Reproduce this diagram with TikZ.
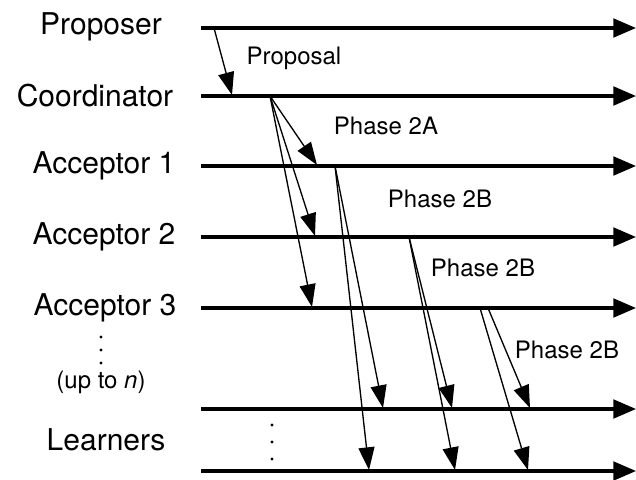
\documentclass[tikz,border=0pt]{standalone}
\usepackage{fontspec}
\setmainfont{TeX Gyre Heros}
\usetikzlibrary{arrows.meta}

\tikzset{every picture/.style={line width=0.75pt}}

\begin{document}
\begin{tikzpicture}[x=0.75pt,y=0.75pt,yscale=-1,xscale=1,
		role/.style={inner sep=0.75pt,font=\fontsize{22.5}{27}\selectfont},
		msglabel/.style={inner sep=0.75pt,font=\fontsize{18}{21.6}\selectfont},
		timeline/.style={line width=2.3pt,-{Triangle[length=17pt,width=14pt]}},
		msg/.style={line width=1pt,-{Triangle[length=17pt,width=12pt]}},
		vdot/.style={circle,fill,inner sep=0pt,minimum size=2.6pt}]
		\useasboundingbox (0,0) rectangle (636,479);
		
		% roles
		\node[role] (proposer) at (101,27) {Proposer};
		\node[role] (coord) at (95,96) {Coordinator};
		\node[role] (acc1) at (104,166) {Acceptor 1};
		\node[role] (acc2) at (104,237) {Acceptor 2};
		\node[role] (acc3) at (105,308) {Acceptor 3};
		\node[msglabel] (upto) at (101,382) {(up to \textit{n})};
		\node[role] (learners) at (106,440) {Learners};
		\foreach \i/\y in {1/337,2/350,3/363}
			\node[vdot] (ad\i) at (101,\y) {};
		\foreach \i/\y in {1/425,2/442,3/459}
			\node[vdot] (ld\i) at (272,\y) {};
		
		% time lines
		\foreach \n/\y in {p/28,c/96,a/166,b/237,d/308,l/409,m/471} {
			\coordinate (\n0) at (201,\y);
			\coordinate (\n1) at (636,\y);
			\draw[timeline] (\n0) -- (\n1);
		}
		
		% message ends
		\coordinate (ps) at (214,28);   \coordinate (pe) at (232,95);
		\coordinate (cs) at (270,96);
		\coordinate (ce1) at (317,165); \coordinate (ce2) at (315,236); \coordinate (ce3) at (312,307);
		\coordinate (as) at (335,166);
		\coordinate (ae1) at (383,408); \coordinate (ae2) at (369,470);
		\coordinate (bs) at (409,237);
		\coordinate (be1) at (452,408); \coordinate (be2) at (455,470);
		\coordinate (ds1) at (480,308); \coordinate (ds2) at (488,308);
		\coordinate (de1) at (530,408); \coordinate (de2) at (528,470);
		
		% messages
		\draw[msg] (ps) -- (pe);
		\foreach \e in {ce1,ce2,ce3} \draw[msg] (cs) -- (\e);
		\foreach \e in {ae1,ae2} \draw[msg] (as) -- (\e);
		\foreach \e in {be1,be2} \draw[msg] (bs) -- (\e);
		\draw[msg] (ds2) -- (de1);
		\draw[msg] (ds1) -- (de2);
		
		% labels
		\node[msglabel] (lprop) at (294,58) {Proposal};
		\node[msglabel] (l2a) at (386,126) {Phase 2A};
		\node[msglabel] (l2b1) at (440,199) {Phase 2B};
		\node[msglabel] (l2b2) at (483,268) {Phase 2B};
		\node[msglabel] (l2b3) at (567,350) {Phase 2B};
		
	\end{tikzpicture}
\end{document}
